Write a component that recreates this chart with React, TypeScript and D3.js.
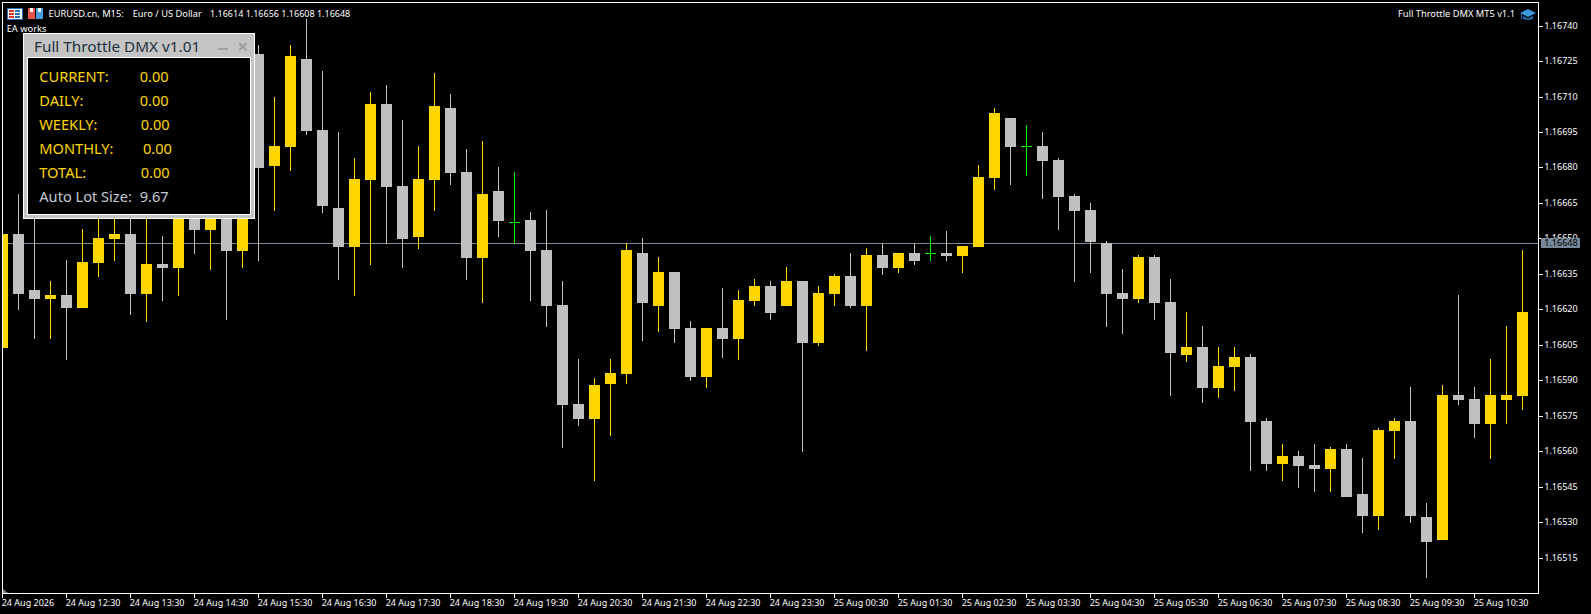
import React from "react";
import * as d3 from "d3";

const opens = [1.16604,1.16652,1.16628,1.16625,1.16626,1.16621,1.16640,1.16650,1.16652,1.16627,1.16639,1.16638,1.16670,1.16654,1.16668,1.16645,
1.16728,1.16681,1.16689,1.16726,1.16696,1.16663,1.16647,1.16675,1.16707,1.16672,1.16651,1.16675,1.16705,1.16678,1.16642,1.16670,
1.16657,1.16658,1.16645,1.16622,1.16580,1.16574,1.16589,1.16593,1.16644,1.16622,1.16636,1.16612,1.16592,1.16612,1.16608,1.16624,
1.16630,1.16622,1.16632,1.16606,1.16627,1.16634,1.16622,1.16643,1.16638,1.16644,1.16644,1.16644,1.16643,1.16647,1.16676,1.16701,
1.16689,1.16689,1.16683,1.16668,1.16662,1.16648,1.16627,1.16625,1.16642,1.16623,1.16601,1.16604,1.16587,1.16596,1.16600,1.16573,
1.16555,1.16558,1.16554,1.16553,1.16561,1.16542,1.16533,1.16569,1.16573,1.16532,1.16523,1.16584,1.16582,1.16572,1.16582,1.16584];
const highs = [1.16654,1.16669,1.16666,1.16632,1.16641,1.16654,1.16662,1.16664,1.16664,1.16660,1.16651,1.16675,1.16678,1.16680,1.16676,1.16680,
1.16732,1.16710,1.16732,1.16743,1.16721,1.16695,1.16684,1.16712,1.16715,1.16700,1.16689,1.16720,1.16711,1.16688,1.16691,1.16680,
1.16678,1.16661,1.16662,1.16632,1.16599,1.16591,1.16599,1.16648,1.16650,1.16642,1.16636,1.16615,1.16612,1.16629,1.16628,1.16633,
1.16632,1.16638,1.16632,1.16630,1.16635,1.16644,1.16646,1.16648,1.16644,1.16648,1.16651,1.16653,1.16647,1.16681,1.16705,1.16701,
1.16698,1.16695,1.16684,1.16669,1.16665,1.16649,1.16637,1.16643,1.16643,1.16633,1.16619,1.16613,1.16604,1.16604,1.16601,1.16574,
1.16563,1.16560,1.16563,1.16562,1.16563,1.16557,1.16570,1.16574,1.16587,1.16538,1.16588,1.16626,1.16587,1.16599,1.16613,1.16645];
const lows = [1.16602,1.16620,1.16608,1.16608,1.16599,1.16621,1.16634,1.16641,1.16618,1.16615,1.16624,1.16626,1.16644,1.16637,1.16616,1.16638,
1.16641,1.16662,1.16679,1.16694,1.16661,1.16633,1.16626,1.16639,1.16648,1.16638,1.16646,1.16662,1.16673,1.16633,1.16623,1.16651,
1.16648,1.16624,1.16613,1.16562,1.16571,1.16548,1.16567,1.16589,1.16607,1.16611,1.16606,1.16590,1.16587,1.16600,1.16599,1.16622,
1.16616,1.16622,1.16560,1.16605,1.16622,1.16621,1.16603,1.16635,1.16636,1.16639,1.16641,1.16641,1.16636,1.16647,1.16671,1.16673,
1.16677,1.16667,1.16654,1.16632,1.16636,1.16613,1.16610,1.16623,1.16616,1.16584,1.16598,1.16581,1.16583,1.16586,1.16552,1.16552,
1.16548,1.16545,1.16543,1.16543,1.16541,1.16526,1.16527,1.16557,1.16530,1.16507,1.16523,1.16580,1.16566,1.16557,1.16572,1.16578];
const closes = [1.16652,1.16627,1.16625,1.16626,1.16621,1.16640,1.16650,1.16652,1.16627,1.16639,1.16638,1.16668,1.16654,1.16670,1.16645,1.16668,
1.16680,1.16689,1.16727,1.16696,1.16664,1.16647,1.16675,1.16707,1.16672,1.16650,1.16675,1.16706,1.16678,1.16642,1.16669,1.16658,
1.16657,1.16645,1.16622,1.16580,1.16574,1.16588,1.16593,1.16645,1.16623,1.16636,1.16612,1.16592,1.16612,1.16608,1.16624,1.16630,
1.16619,1.16632,1.16606,1.16627,1.16634,1.16622,1.16643,1.16638,1.16644,1.16641,1.16644,1.16643,1.16647,1.16676,1.16703,1.16689,
1.16689,1.16683,1.16668,1.16662,1.16649,1.16627,1.16625,1.16642,1.16623,1.16602,1.16604,1.16587,1.16596,1.16600,1.16573,1.16555,
1.16558,1.16554,1.16553,1.16561,1.16541,1.16533,1.16569,1.16573,1.16533,1.16522,1.16584,1.16582,1.16572,1.16584,1.16584,1.16619];

const priceTicks = [1.1674,1.16725,1.1671,1.16695,1.1668,1.16665,1.1665,1.16635,1.1662,1.16605,1.1659,1.16575,1.1656,1.16545,1.1653,1.16515];
const timeLabels = ["24 Aug 2026","24 Aug 12:30","24 Aug 13:30","24 Aug 14:30","24 Aug 15:30","24 Aug 16:30","24 Aug 17:30","24 Aug 18:30","24 Aug 19:30","24 Aug 20:30","24 Aug 21:30","24 Aug 22:30","24 Aug 23:30","25 Aug 00:30","25 Aug 01:30","25 Aug 02:30","25 Aug 03:30","25 Aug 04:30","25 Aug 05:30","25 Aug 06:30","25 Aug 07:30","25 Aug 08:30","25 Aug 09:30","25 Aug 10:30"];
const lastPrice = 1.16648;
const panelRows = [
  { label: "CURRENT:", value: "0.00" },
  { label: "DAILY:", value: "0.00" },
  { label: "WEEKLY:", value: "0.00" },
  { label: "MONTHLY:", value: "0.00" },
  { label: "TOTAL:", value: "0.00" },
];

const GOLD = "#FFD700", GRAY = "#C0C0C0", LIME = "#00FF00", SLATE = "#778899";
const FONT = "'Noto Sans', sans-serif";

const W = 1591, H = 614;
const L = 3, R = 1538, B = 593, T = 2;
const xs = d3.scaleLinear().domain([0, 95]).range([2.5, 1522.5]);
const yp = d3.scaleLinear().domain([1.1674, 1.16515]).range([26.1, 558.2]);
const row = (p: number) => Math.floor(yp(p) + 1e-6);
const candles = d3.range(opens.length).map((i) => ({ i, o: opens[i], h: highs[i], l: lows[i], c: closes[i] }));

const panelValueX = [139.7, 139.7, 140.7, 143, 140.7];

export default function App() {
  return (
    <svg width={W} height={H} viewBox={`0 0 ${W} ${H}`} style={{ position: "fixed", left: 0, top: 0, display: "block", background: "#000" }}>
      <defs>
        <clipPath id="plot"><rect x={L} y={T + 1} width={R - L} height={B - T - 1} /></clipPath>
      </defs>
      <rect width={W} height={H} fill="#000" />

      <g clipPath="url(#plot)" shapeRendering="crispEdges">
        <rect x={L} y={row(lastPrice)} width={R - L} height={1} fill={SLATE} />
        {candles.map((d) => {
          const cx = xs(d.i);
          const col = d.c > d.o ? GOLD : d.c < d.o ? GRAY : LIME;
          const top = row(Math.max(d.o, d.c));
          const bot = row(Math.min(d.o, d.c));
          return (
            <g key={d.i} fill={col}>
              <rect x={cx - 0.5} y={row(d.h)} width={1} height={row(d.l) - row(d.h) + 1} />
              <rect x={cx - 5.5} y={top} width={11} height={bot - top + 1} />
            </g>
          );
        })}
      </g>

      {/* frame */}
      <g shapeRendering="crispEdges" fill="#fff">
        <rect x={2} y={T} width={R - 2 + 1} height={1} />
        <rect x={2} y={T} width={1} height={B - T + 1} />
        <rect x={R} y={T} width={1} height={B - T + 1} />
        <rect x={2} y={B} width={R - 2 + 1} height={1} />
        {priceTicks.map((p) => <rect key={p} x={R + 1} y={row(p)} width={4} height={1} />)}
        {timeLabels.map((t, k) => <rect key={t} x={xs(4 * k) - 0.5} y={B + 1} width={1} height={4} />)}
      </g>
      <path d="M3 589 L3 593 L8 593 Z" fill={SLATE} />

      {/* price labels */}
      <g fontFamily={FONT} fontSize={9} fill="#fff">
        {priceTicks.map((p) => (
          <text key={p} x={1544.3} y={row(p) - 0.2} dominantBaseline="central">{p.toFixed(5)}</text>
        ))}
        <rect x={1541} y={row(lastPrice) - 5} width={39} height={10} fill={SLATE} shapeRendering="crispEdges" />
        <text x={1544.3} y={row(lastPrice) - 0.2} dominantBaseline="central" fill="#000">{lastPrice.toFixed(5)}</text>
      </g>

      {/* time labels */}
      <g fontFamily={FONT} fontSize={9} fill="#fff">
        {timeLabels.map((t, k) => (
          <text key={t} x={xs(4 * k) - 0.8} y={602.3} dominantBaseline="central">{t}</text>
        ))}
      </g>

      {/* header */}
      <g shapeRendering="crispEdges">
        <rect x={7} y={8} width={15} height={11} fill="#fff" stroke="#2a6fb5" strokeWidth={1} />
        <rect x={9} y={10} width={5} height={2} fill="#d9352b" />
        <rect x={9} y={13} width={5} height={2} fill="#d9352b" />
        <rect x={9} y={16} width={5} height={2} fill="#d9352b" />
        <rect x={15} y={10} width={5} height={2} fill="#2a6fb5" />
        <rect x={15} y={13} width={5} height={2} fill="#2a6fb5" />
        <rect x={15} y={16} width={5} height={2} fill="#2a6fb5" />
        <rect x={28} y={8} width={7} height={11} fill="#e8544a" />
        <rect x={30} y={8} width={3} height={4} fill="#fff" />
        <rect x={36} y={8} width={7} height={11} fill="#4a9de0" />
        <rect x={38} y={8} width={3} height={4} fill="#fff" />
      </g>
      <g fontFamily={FONT} fontSize={9.3} fill="#fff" dominantBaseline="central">
        <text x={48.5} y={13.5}>EURUSD.cn, M15:</text>
        <text x={132.7} y={13.5}>Euro / US Dollar</text>
        <text x={210} y={13.5} fontSize={9}>1.16614 1.16656 1.16608 1.16648</text>
        <text x={6.7} y={28.7}>EA works</text>
        <text x={1515} y={13.5} textAnchor="end">Full Throttle DMX MT5 v1.1</text>
      </g>
      <g>
        <path d="M1520 13 L1528 9 L1536 13 L1528 17 Z" fill="#3a9bdc" />
        <path d="M1523 16 L1528 18.5 L1533 16 L1533 19 Q1528 21 1523 19 Z" fill="#1f6fb0" />
        <rect x={1521} y={13} width={1} height={6} fill="#1f6fb0" />
      </g>

      {/* panel */}
      <g shapeRendering="crispEdges">
        <rect x={23} y={33} width={232} height={186} fill="#fff" />
        <rect x={24} y={34} width={230} height={184} fill="#C4C4C4" />
        <rect x={27} y={57} width={224} height={158} fill="#fff" />
        <rect x={28} y={58} width={222} height={156} fill="#000" />
        <rect x={218} y={48} width={10} height={2} fill="#a0a0a0" />
      </g>
      <path d="M239 43 L246.5 50.5 M246.5 43 L239 50.5" stroke="#9aa0a0" strokeWidth={2} fill="none" />
      <text x={34} y={46} fontFamily={FONT} fontSize={15.3} fill="#22303c" dominantBaseline="central">Full Throttle DMX v1.01</text>
      <g fontFamily={FONT} fontSize={14.6} fill={GOLD} dominantBaseline="central">
        {panelRows.map((r, i) => (
          <g key={r.label}>
            <text x={39.3} y={75.9 + i * 23.9}>{r.label}</text>
            <text x={panelValueX[i]} y={75.9 + i * 23.9}>{r.value}</text>
          </g>
        ))}
        <text x={39.3} y={195.5} fill="#C0CCD8">Auto Lot Size:</text>
        <text x={139.7} y={195.5} fill="#C0CCD8">9.67</text>
      </g>
    </svg>
  );
}
